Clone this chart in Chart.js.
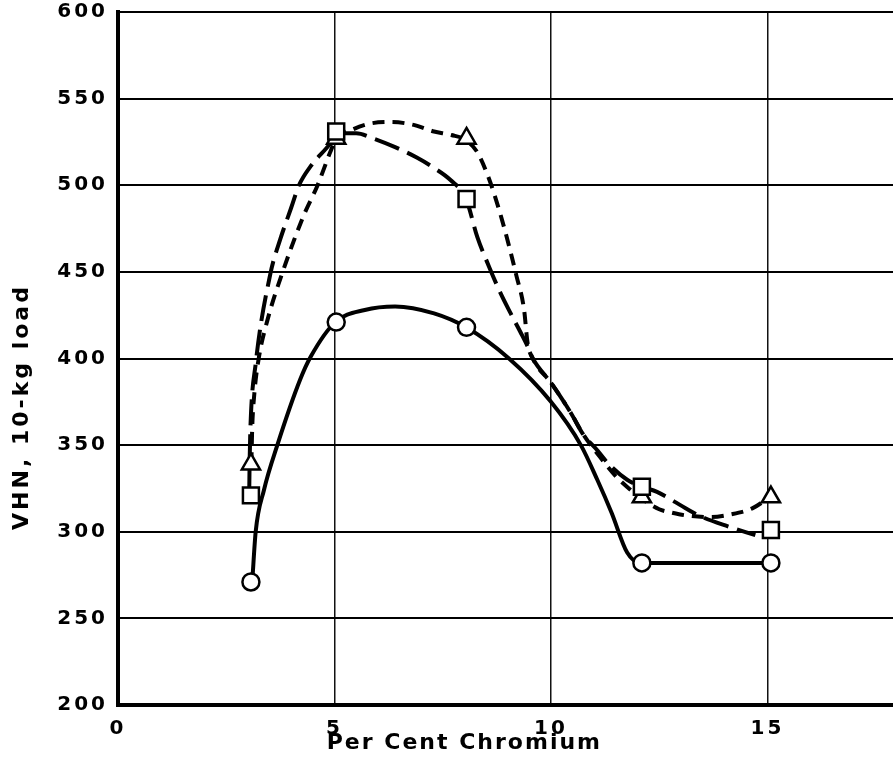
<!DOCTYPE html>
<html>
<head>
<meta charset="utf-8">
<script src="https://cdn.jsdelivr.net/npm/chart.js@4.4.1/dist/chart.umd.min.js"></script>
<style>
  html, body { margin: 0; padding: 0; background: #fff; overflow: hidden; }
  #wrap { width: 893px; height: 769px; }
  canvas { display: block; }
</style>
</head>
<body>
<div id="wrap"><canvas id="chart"></canvas></div>
<script>
// measured points: per cent Cr vs VHN
const chromium = [3.07, 5.04, 8.05, 12.1, 15.08]
const vhnCircle = [271, 421, 418, 282, 282]
const vhnSquare = [321, 531, 492, 326, 301]
const vhnTriangle = [339, 527, 527, 320, 320]

// hand drawn curves
const solidX = [3.1, 3.18, 3.37, 3.68, 4.21, 4.45, 5.02, 5.7, 6.4, 7.3, 8.04, 9.03, 10.0, 10.69, 11.07, 11.4, 11.76, 12.07, 15.05]
const solidY = [271, 300, 324, 350, 388, 401, 421, 428, 430, 426, 418, 400, 375, 350, 330, 311, 288, 282, 282]

const longDashX = [3.03, 3.04, 3.06, 3.18, 3.52, 3.75, 4.0, 4.18, 4.45, 4.9, 5.06, 5.5, 5.9, 6.4, 6.9, 7.3, 7.68, 8.04, 8.3, 8.57, 8.83, 9.07, 9.3, 9.46, 9.58, 10.0, 10.45, 10.75, 11.07, 11.3, 11.76, 12.1, 12.45, 13.15, 13.45, 14.1, 14.72]
const longDashY = [321, 340, 361, 397, 449, 469, 487, 500, 511, 524, 530, 530, 527, 522, 516, 510, 503, 492, 470, 453, 438, 426, 415, 407, 400, 386, 369, 356, 347, 340, 330, 326, 323, 313, 309, 303, 298]

const shortDashX = [3.08, 3.1, 3.15, 3.25, 3.45, 3.79, 4.28, 4.61, 4.9, 5.04, 5.4, 5.8, 6.3, 6.8, 7.3, 7.7, 8.04, 8.3, 8.55, 8.8, 9.0, 9.2, 9.38, 9.46, 9.58, 10.0, 10.45, 10.75, 11.2, 11.5, 11.8, 12.1, 12.5, 12.8, 13.1, 13.7, 14.15, 14.65, 15.0]
const shortDashY = [339, 360, 380, 400, 422, 449, 482, 500, 519, 527, 532, 535.5, 536.5, 535, 531, 529, 526, 519, 505, 486, 468, 448, 428, 409, 400, 386, 369, 356, 341, 332, 325, 319, 313, 311, 309.5, 308.5, 310, 313.5, 319]

const xTicks = [0, 5, 10, 15]
const yTicks = [200, 250, 300, 350, 400, 450, 500, 550, 600]

const xTitle = 'Per Cent Chromium'
const yTitle = 'VHN, 10-kg load'

const pts = (xs, ys) => xs.map((x, i) => ({ x, y: ys[i] }))

const marker = (ys, style, r) => ({
  data: pts(chromium, ys),
  showLine: false,
  pointStyle: style,
  pointRadius: r,
  pointBackgroundColor: '#fff',
  pointBorderColor: '#000',
  pointBorderWidth: 2.5,
  order: 0
})

const curve = (xs, ys, dash) => ({
  data: pts(xs, ys),
  borderColor: '#000',
  borderWidth: 4,
  borderDash: dash,
  pointRadius: 0,
  cubicInterpolationMode: 'monotone',
  order: 1
})

const tickFont = { family: 'DejaVu Sans', weight: 'bold', size: 20 }

// spaced out lettering + axis titles placed like the original
const lettering = {
  id: 'lettering',
  beforeLayout(chart) { chart.ctx.letterSpacing = '3px' },
  beforeDraw(chart) { chart.ctx.letterSpacing = '3px' },
  afterDraw(chart) {
    const { ctx, chartArea, scales } = chart
    ctx.save()
    ctx.fillStyle = '#000'
    ctx.font = 'bold 22px "DejaVu Sans"'
    ctx.letterSpacing = '2px'
    ctx.textAlign = 'center'
    ctx.textBaseline = 'middle'
    ctx.fillText(xTitle, scales.x.getPixelForValue(8.0), chartArea.bottom + 38)
    ctx.translate(22, scales.y.getPixelForValue(372))
    ctx.rotate(-Math.PI / 2)
    ctx.letterSpacing = '3px'
    ctx.fillText(yTitle, 0, 0)
    ctx.restore()
  }
}

new Chart(document.getElementById('chart'), {
  type: 'line',
  data: {
    datasets: [
      marker(vhnSquare, 'rect', 11.3),
      marker(vhnTriangle, 'triangle', 10.5),
      marker(vhnCircle, 'circle', 8.5),
      curve(solidX, solidY, []),
      curve(longDashX, longDashY, [26, 9]),
      curve(shortDashX, shortDashY, [12, 8])
    ]
  },
  options: {
    responsive: true,
    maintainAspectRatio: false,
    animation: false,
    layout: { autoPadding: false, padding: { top: 12, right: 0, left: 0, bottom: 0 } },
    plugins: {
      legend: { display: false },
      tooltip: { enabled: false }
    },
    scales: {
      x: {
        type: 'linear',
        min: 0,
        max: 17.9,
        afterBuildTicks: s => { s.ticks = xTicks.map(v => ({ value: v })) },
        afterFit: s => { s.height = 64; s.paddingLeft = 0; s.paddingRight = 0 },
        grid: { color: '#111', lineWidth: 1.5, drawTicks: false },
        border: { color: '#000', width: 4 },
        ticks: { color: '#000', font: tickFont, padding: 12, maxRotation: 0 }
      },
      y: {
        min: 200,
        max: 600,
        afterBuildTicks: s => { s.ticks = yTicks.map(v => ({ value: v })) },
        afterFit: s => { s.width = 118; s.paddingTop = 0; s.paddingBottom = 0 },
        grid: { color: '#000', lineWidth: 2, drawTicks: false },
        border: { color: '#000', width: 4 },
        ticks: { color: '#000', font: tickFont, padding: 10 }
      }
    }
  },
  plugins: [lettering]
})
</script>
</body>
</html>
